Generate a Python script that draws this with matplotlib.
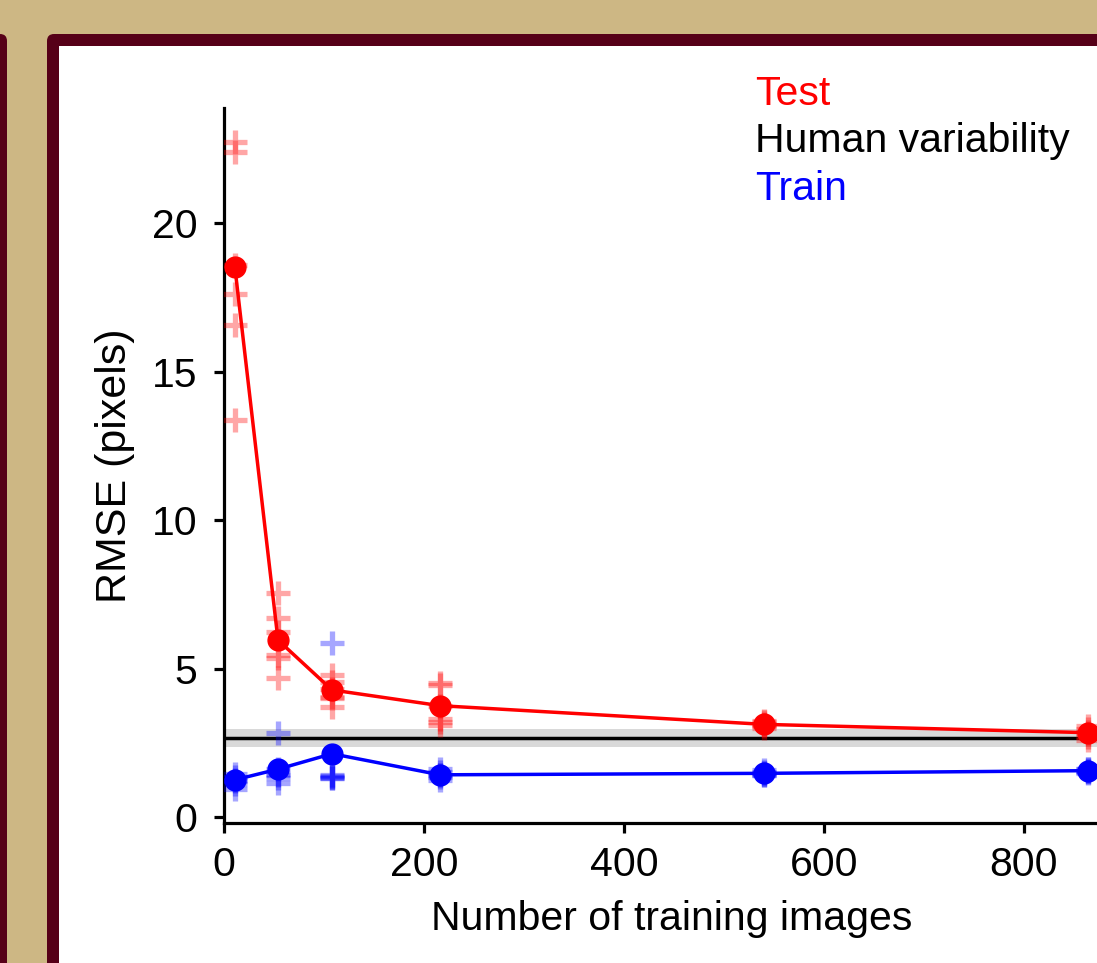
import numpy as np
import matplotlib
matplotlib.use("Agg")
import matplotlib.pyplot as plt
from matplotlib.patches import FancyBboxPatch, Rectangle

plt.rcParams['font.family'] = ['Liberation Sans', 'DejaVu Sans']

# Data
n_train = [10.8, 54, 108, 216, 540, 864]

test_mean = [18.55, 5.96, 4.28, 3.75, 3.12, 2.84]
train_mean = [1.25, 1.61, 2.13, 1.42, 1.47, 1.56]

# individual runs (6 per training size)
test_runs = [
    [22.75, 22.4, 18.6, 17.64, 16.58, 13.38],
    [7.54, 6.69, 6.24, 5.46, 5.35, 4.67],
    [4.78, 4.55, 4.3, 4.05, 4.0, 3.72],
    [4.5, 4.45, 3.75, 3.3, 3.2, 3.1],
    [3.25, 3.2, 3.12, 3.1, 3.05, 3.0],
    [3.05, 2.95, 2.85, 2.8, 2.7, 2.6],
]
train_runs = [
    [1.45, 1.35, 1.25, 1.2, 1.1, 0.95],
    [2.82, 1.6, 1.45, 1.4, 1.3, 1.15],
    [5.85, 1.42, 1.38, 1.35, 1.32, 1.3],
    [1.6, 1.5, 1.42, 1.4, 1.35, 1.25],
    [1.58, 1.52, 1.48, 1.45, 1.42, 1.4],
    [1.63, 1.6, 1.56, 1.55, 1.52, 1.48],
]

human_mean = 2.66
human_lo, human_hi = 2.36, 2.96

fs = 29.5

fig = plt.figure(figsize=(10.97, 9.63), dpi=100)
fig.patch.set_facecolor('#cdb784')

# page decoration (pixels -> inches)
px = lambda p: p / 100.0
H = 963
maroon = '#560018'
fig.add_artist(FancyBboxPatch((px(-60), px(-60)), px(67), px(H - 34 + 60),
                              boxstyle="round,pad=0,rounding_size=0.07",
                              transform=fig.dpi_scale_trans, fc=maroon, ec='none', zorder=0))
fig.add_artist(FancyBboxPatch((px(47), px(-60)), px(1200), px(H - 34 + 60),
                              boxstyle="round,pad=0,rounding_size=0.07",
                              transform=fig.dpi_scale_trans, fc=maroon, ec='none', zorder=0))
fig.add_artist(Rectangle((px(59), px(-60)), px(1200), px(H - 46 + 60),
                         transform=fig.dpi_scale_trans, fc='white', ec='none', zorder=0))

# axes run past the right edge of the picture, as in the reference crop
ax = fig.add_axes([224 / 1097, 0.1455, 895 / 1097, 0.7426])
ax.set_facecolor('none')

ax.axhspan(human_lo, human_hi, color='#d9d9d9', lw=0, zorder=1)
ax.axhline(human_mean, color='black', lw=2.5, zorder=2)

for x, runs in zip(n_train, test_runs):
    ax.plot([x] * len(runs), runs, '+', color='red', alpha=0.35,
            ms=17, mew=3.8, zorder=3)
for x, runs in zip(n_train, train_runs):
    ax.plot([x] * len(runs), runs, '+', color='blue', alpha=0.35,
            ms=17, mew=3.8, zorder=3)

ax.plot(n_train, test_mean, '-o', color='red', lw=2.5, ms=15, zorder=4)
ax.plot(n_train, train_mean, '-o', color='blue', lw=2.5, ms=15, zorder=4)

ax.set_xlim(0, 895)
ax.set_ylim(-0.2, 23.9)
ax.set_xticks([0, 200, 400, 600, 800])
ax.set_yticks([0, 5, 10, 15, 20])

for s in ['top', 'right']:
    ax.spines[s].set_visible(False)
for s in ['left', 'bottom']:
    ax.spines[s].set_linewidth(2.3)

ax.tick_params(axis='both', direction='out', length=7, width=2.3, labelsize=fs)
ax.tick_params(axis='y', pad=12)
ax.tick_params(axis='x', pad=10)

ax.set_xlabel('Number of training images', fontsize=fs, labelpad=11)
ax.set_ylabel('RMSE (pixels)', fontsize=31, labelpad=12)

# text legend
fig.text(755 / 1097, 1 - 105 / H, 'Test', color='red', fontsize=fs, va='baseline')
fig.text(755 / 1097, 1 - 152 / H, 'Human variability', color='black', fontsize=fs, va='baseline')
fig.text(755 / 1097, 1 - 200 / H, 'Train', color='blue', fontsize=fs, va='baseline')

fig.savefig('out.png', dpi=100, facecolor=fig.get_facecolor())
